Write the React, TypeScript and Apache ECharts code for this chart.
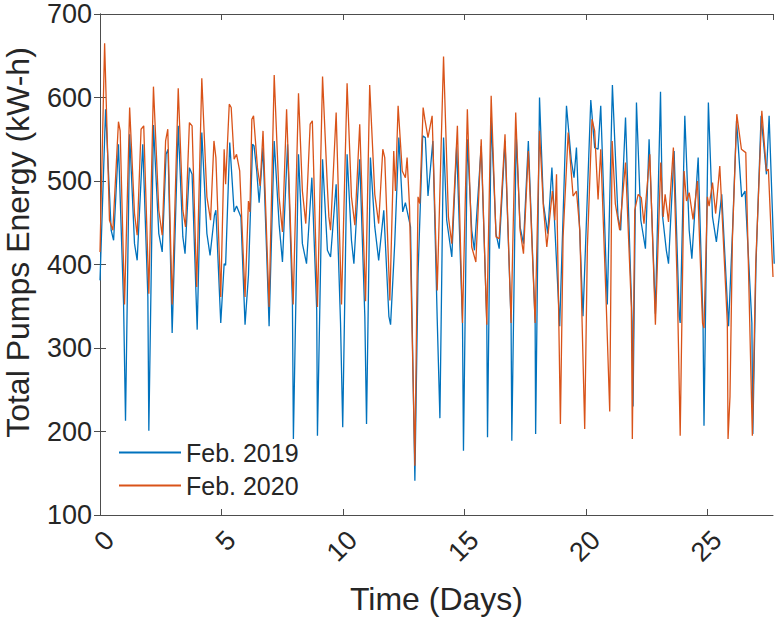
import React, { useEffect, useRef } from "react";
import * as echarts from "echarts";

// Feb. 2019 (time in days, energy in kW-h)
const t2019 = [
  0.0, 0.23, 0.46, 0.56, 0.76, 0.97, 1.05, 1.22, 1.42, 1.53, 1.76, 1.97, 2.01, 2.2, 2.42, 2.56, 2.72, 2.8, 2.97,
  3.22, 3.41, 3.5, 3.68, 3.79, 4.0, 4.19, 4.4, 4.53, 4.71, 4.77, 4.97, 5.11, 5.17, 5.34, 5.52, 5.62, 5.8, 5.97,
  6.11, 6.28, 6.34, 6.45, 6.55, 6.71, 6.93, 6.96, 7.17, 7.37, 7.51, 7.72, 7.92, 7.96, 8.17, 8.33, 8.5, 8.72,
  8.92, 8.95, 9.16, 9.36, 9.49, 9.72, 9.9, 9.99, 10.17, 10.35, 10.45, 10.69, 10.9, 10.97, 11.13, 11.31, 11.47,
  11.68, 11.89, 11.96, 12.13, 12.3, 12.46, 12.57, 12.78, 12.96, 13.09, 13.28, 13.39, 13.5, 13.7, 13.88, 13.99,
  14.14, 14.27, 14.48, 14.68, 14.92, 14.96, 15.12, 15.3, 15.41, 15.69, 15.92, 15.95, 16.1, 16.3, 16.43, 16.67,
  16.92, 16.95, 17.13, 17.29, 17.43, 17.63, 17.91, 17.93, 18.09, 18.25, 18.43, 18.6, 18.72, 18.92, 19.2, 19.4,
  19.51, 19.61, 19.88, 20.2, 20.36, 20.5, 20.61, 20.88, 21.09, 21.32, 21.43, 21.63, 21.9, 21.94, 22.08, 22.26,
  22.45, 22.6, 22.86, 23.07, 23.15, 23.31, 23.4, 23.63, 23.84, 23.88, 24.07, 24.25, 24.36, 24.62, 24.82, 24.86,
  25.04, 25.21, 25.37, 25.59, 25.87, 26.03, 26.2, 26.41, 26.55, 26.83, 26.87, 27.0, 27.21, 27.43, 27.54, 27.75,
];
const e2019 = [
  381, 586, 441, 429, 544, 354, 213, 556, 425, 405, 544, 361, 201, 567, 437, 415, 532, 538, 318,
  566, 433, 413, 516, 508, 322, 558, 437, 411, 459, 465, 330, 401, 399, 546, 463, 470, 457, 328,
  387, 544, 542, 512, 474, 540, 354, 326, 548, 449, 403, 544, 354, 191, 532, 425, 401, 504,
  345, 195, 526, 417, 409, 496, 330, 205, 532, 429, 401, 526, 338, 209, 528, 445, 405,
  465, 338, 328, 425, 552, 463, 474, 445, 141, 389, 554, 552, 482, 548, 334, 216,
  552, 453, 409, 542, 330, 177, 550, 441, 417, 542, 330, 193, 576, 437, 419, 548,
  330, 189, 556, 445, 425, 548, 330, 197, 600, 473, 437, 516, 445, 326, 590, 524,
  504, 540, 338, 597, 540, 538, 590, 352, 615, 457, 441, 576, 332, 230, 594, 453,
  419, 550, 341, 607, 459, 417, 401, 536, 338, 330, 578, 441, 407, 528, 330, 207,
  594, 457, 427, 484, 326, 437, 572, 481, 488, 330, 197, 401, 578, 508, 578, 401,
];

// Feb. 2020 (time in days, energy in kW-h)
const t2020 = [
  0.0, 0.19, 0.39, 0.53, 0.76, 0.83, 1.01, 1.22, 1.42, 1.53, 1.69, 1.8, 2.01, 2.2, 2.42, 2.56, 2.7, 2.79, 2.97,
  3.22, 3.41, 3.52, 3.68, 3.79, 3.98, 4.19, 4.4, 4.55, 4.69, 4.77, 4.97, 5.11, 5.17, 5.32, 5.4, 5.52, 5.62, 5.75,
  5.97, 6.11, 6.17, 6.25, 6.32, 6.48, 6.59, 6.71, 6.96, 7.17, 7.37, 7.51, 7.68, 7.95, 8.17, 8.33, 8.47, 8.65,
  8.74, 8.95, 9.16, 9.36, 9.42, 9.49, 9.72, 9.94, 10.17, 10.35, 10.49, 10.69, 10.93, 11.1, 11.31, 11.47, 11.64,
  11.72, 11.93, 12.09, 12.16, 12.27, 12.44, 12.57, 12.64, 12.74, 12.96, 13.09, 13.16, 13.3, 13.37, 13.5, 13.67,
  13.88, 14.14, 14.34, 14.48, 14.71, 14.92, 15.12, 15.3, 15.47, 15.69, 15.92, 16.1, 16.3, 16.43, 16.67, 16.92,
  17.11, 17.29, 17.43, 17.63, 17.91, 18.09, 18.25, 18.39, 18.62, 18.72, 18.79, 18.95, 19.06, 19.27, 19.47,
  19.61, 19.75, 19.95, 20.06, 20.25, 20.36, 20.5, 20.61, 20.84, 20.98, 21.08, 21.21, 21.39, 21.63, 21.87,
  21.91, 22.01, 22.15, 22.28, 22.39, 22.63, 22.86, 23.08, 23.18, 23.26, 23.4, 23.6, 23.77, 23.88, 24.04,
  24.14, 24.25, 24.41, 24.59, 24.8, 24.86, 25.0, 25.07, 25.21, 25.34, 25.51, 25.82, 25.85, 25.93, 26.03,
  26.21, 26.4, 26.58, 26.85, 26.99, 27.24, 27.43, 27.51, 27.7,
];
const e2020 = [
  415, 665, 453, 441, 571, 560, 352, 588, 461, 435, 562, 566, 365, 613, 465, 435, 548, 562, 352,
  611, 465, 445, 570, 566, 373, 623, 481, 453, 548, 528, 361, 538, 496, 592, 588, 526, 532, 512,
  361, 476, 463, 574, 578, 516, 494, 560, 349, 627, 481, 439, 586, 352, 605, 488, 449, 568,
  572, 349, 625, 492, 457, 441, 582, 352, 617, 481, 447, 568, 356, 615, 484, 449, 538,
  528, 357, 536, 488, 590, 512, 504, 528, 469, 159, 481, 473, 588, 574, 552, 578,
  369, 649, 457, 425, 566, 330, 586, 421, 403, 550, 328, 602, 433, 431, 556, 330,
  582, 441, 413, 536, 330, 560, 469, 421, 488, 453, 508, 209, 433, 558, 482,
  488, 441, 203, 421, 574, 560, 478, 538, 349, 224, 548, 473, 441, 522, 349,
  191, 465, 484, 480, 449, 532, 328, 522, 457, 484, 451, 540, 361, 195, 512,
  476, 486, 454, 500, 330, 324, 481, 470, 498, 461, 518, 330, 191, 242, 431,
  580, 538, 534, 195, 401, 584, 512, 514, 385,
];

const xTicksMax = 27.7;
const seriesNames = ["Feb. 2019", "Feb. 2020"];

export default function App() {
  const ref = useRef<HTMLDivElement>(null);
  useEffect(() => {
    if (!ref.current) return;
    const chart = echarts.init(ref.current, undefined, { renderer: "svg" });
    const font = "'Liberation Sans', Arial, Helvetica, sans-serif";
    const axisColor = "#4d4d4d";
    const textColor = "#262626";
    const d2019 = t2019.map((t, i) => [t, e2019[i]]);
    const d2020 = t2020.map((t, i) => [t, e2020[i]]);
    chart.setOption({
      animation: false,
      backgroundColor: "#ffffff",
      textStyle: { fontFamily: font },
      grid: {
        left: 100,
        right: 5,
        top: 14,
        bottom: 105,
        containLabel: false,
        outerBoundsMode: "none",
      },
      legend: {
        orient: "vertical",
        left: 114,
        top: 434,
        itemWidth: 62,
        itemHeight: 2,
        itemGap: 6,
        icon: "rect",
        data: seriesNames,
        textStyle: { fontSize: 25, color: textColor, fontFamily: font, lineHeight: 27 },
      },
      xAxis: [
        {
          type: "value",
          min: 0,
          max: xTicksMax,
          interval: 5,
          name: "Time (Days)",
          nameLocation: "middle",
          nameGap: 68,
          nameTextStyle: { fontSize: 32, color: textColor, fontFamily: font },
          axisLine: { show: true, lineStyle: { color: axisColor, width: 1 } },
          axisTick: { show: true, inside: true, length: 6, lineStyle: { color: axisColor } },
          axisLabel: {
            rotate: 45,
            align: "right",
            verticalAlign: "top",
            fontSize: 27,
            lineHeight: 27,
            color: textColor,
            fontFamily: font,
            margin: 11,
            showMaxLabel: false,
          },
          splitLine: { show: false },
        },
        {
          type: "value",
          position: "top",
          min: 0,
          max: xTicksMax,
          interval: 5,
          axisLine: { show: true, lineStyle: { color: axisColor, width: 1 } },
          axisTick: { show: true, inside: true, length: 6, lineStyle: { color: axisColor } },
          axisLabel: { show: false },
          splitLine: { show: false },
        },
      ],
      yAxis: [
        {
          type: "value",
          min: 100,
          max: 700,
          interval: 100,
          name: "Total Pumps Energy (kW-h)",
          nameLocation: "middle",
          nameGap: 66,
          nameTextStyle: {
            fontSize: 32,
            lineHeight: 32,
            color: textColor,
            fontFamily: font,
            padding: [0, 0, 0, 44],
          },
          axisLine: { show: true, lineStyle: { color: axisColor, width: 1 } },
          axisTick: { show: true, inside: true, length: 6, lineStyle: { color: axisColor } },
          axisLabel: { fontSize: 27, lineHeight: 24, color: textColor, fontFamily: font, margin: 8 },
          splitLine: { show: false },
        },
        {
          type: "value",
          position: "right",
          min: 100,
          max: 700,
          interval: 100,
          axisLine: { show: true, lineStyle: { color: axisColor, width: 1 } },
          axisTick: { show: true, inside: true, length: 6, lineStyle: { color: axisColor } },
          axisLabel: { show: false },
          splitLine: { show: false },
        },
      ],
      series: [
        {
          name: seriesNames[0],
          type: "line",
          data: d2019,
          symbol: "none",
          xAxisIndex: 0,
          yAxisIndex: 0,
          lineStyle: { color: "#0072BD", width: 1.3 },
          itemStyle: { color: "#0072BD" },
          clip: true,
        },
        {
          name: seriesNames[1],
          type: "line",
          data: d2020,
          symbol: "none",
          xAxisIndex: 0,
          yAxisIndex: 0,
          lineStyle: { color: "#D95319", width: 1.3 },
          itemStyle: { color: "#D95319" },
          clip: true,
        },
      ],
    });
    return () => chart.dispose();
  }, []);
  return (
    <div
      ref={ref}
      style={{ position: "fixed", left: 0, top: 0, width: 778, height: 620, background: "#fff" }}
    />
  );
}
